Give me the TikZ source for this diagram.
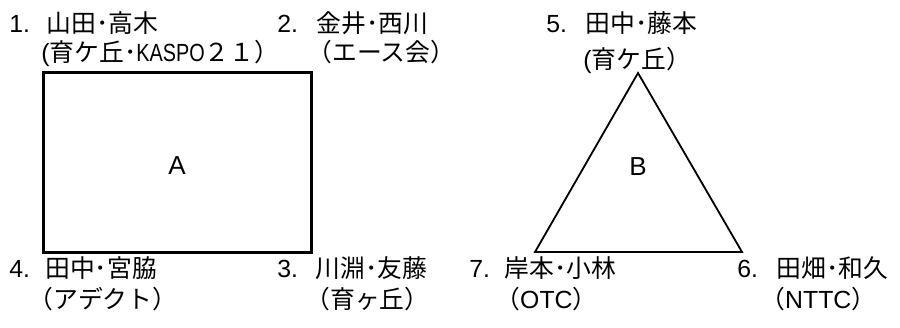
\documentclass[tikz,border=0pt]{standalone}
\usepackage{fontspec}
\setmainfont{Liberation Sans}
\newfontfamily\jp{Noto Sans CJK JP}
\newfontfamily\narrowlatin[FakeStretch=0.8]{Liberation Sans}

\begin{document}
\begin{tikzpicture}[x=0.5pt, y=-0.5pt,
    every node/.style={font=\fontsize{12.4}{14}\selectfont, inner sep=0pt, anchor=base west},
    boxline/.style={line width=1.5pt},
    triline/.style={line width=0.9pt, line join=miter}]
    \useasboundingbox (0,0) rectangle (900,327);
    % Group A (square)
    \draw[boxline] (43,72.5) rectangle (311.5,252.5);
    \node(A)[anchor=center] at (177,166) {\fontsize{13}{14}\selectfont A};
    \begin{scope}[shift={(9,32)}]
      \node(num1) {1.};
      \node(pair1) at (37,0) {\jp 山田･高木};
      \node(team1) at (32,29) {(\jp 育ケ丘･\narrowlatin KASPO\jp ２１）};
    \end{scope}
    \begin{scope}[shift={(277,32)}]
      \node(num2) {2.};
      \node(pair2) at (39,0) {\jp 金井･西川};
      \node(team2) at (30,29) {\jp （エース会）};
    \end{scope}
    \begin{scope}[shift={(277,277)}]
      \node(num3) {3.};
      \node(pair3) at (38,0) {\jp 川淵･友藤};
      \node(team3) at (28,31) {\jp （育ヶ丘）};
    \end{scope}
    \begin{scope}[shift={(9,277)}]
      \node(num4) {4.};
      \node(pair4) at (36,0) {\jp 田中･宮脇};
      \node(team4) at (19,31) {\jp （アデクト）};
    \end{scope}
    % Group B (triangle)
    \coordinate (apex)  at (638,73);
    \coordinate (baseL) at (535,252);
    \coordinate (baseR) at (742,252);
    \draw[triline] (apex) -- (baseL) -- (baseR) -- cycle;
    \node(B)[anchor=center] at (638,167) {\fontsize{13}{14}\selectfont B};
    \begin{scope}[shift={(546,32)}]
      \node(num5) {5.};
      \node(pair5) at (39,0) {\jp 田中･藤本};
      \node(team5) at (37,36) {(\jp 育ケ丘）};
    \end{scope}
    \begin{scope}[shift={(737,277)}]
      \node(num6) {6.};
      \node(pair6) at (39,0) {\jp 田畑･和久};
      \node(team6) at (23,31) {\jp （\rmfamily NTTC\jp ）};
    \end{scope}
    \begin{scope}[shift={(469,277)}]
      \node(num7) {7.};
      \node(pair7) at (35,0) {\jp 岸本･小林};
      \node(team7) at (26,31) {\jp （\rmfamily OTC\jp ）};
    \end{scope}
\end{tikzpicture}
\end{document}
